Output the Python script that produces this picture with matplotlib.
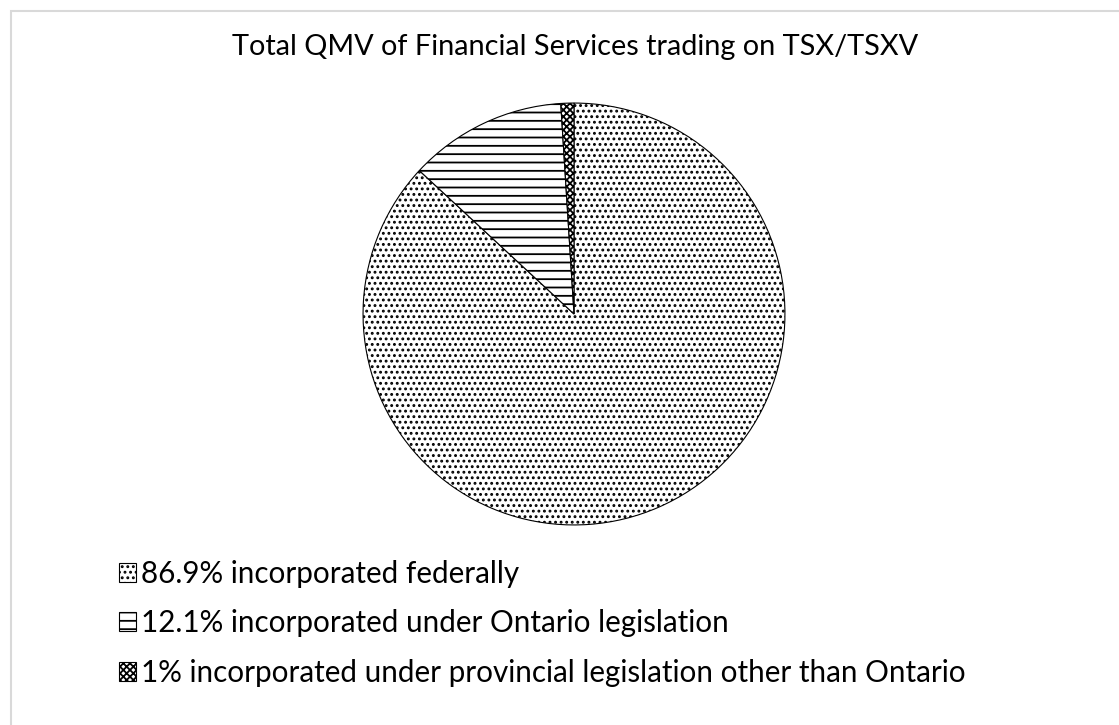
import matplotlib.pyplot as plt
from matplotlib.patches import Patch, Rectangle

plt.rcParams['font.family'] = ['Lato', 'DejaVu Sans']
plt.rcParams['hatch.linewidth'] = 1.3

# Chart data
chartTitle = "Total QMV of Financial Services trading on TSX/TSXV"
shares = [86.9, 12.1, 1.0]
labels = ["86.9% incorporated federally",
          "12.1% incorporated under Ontario legislation",
          "1% incorporated under provincial legislation other than Ontario"]
hatches = ["...", "--", "xxxxx"]

fig = plt.figure(figsize=(11.19, 7.25), dpi=100)

# Light gray chart border (right/bottom edges run off the image)
fig.patches.append(Rectangle((11 / 1119, -0.05), 1.2, 1 - 11 / 725 + 0.05,
                             transform=fig.transFigure, fill=False,
                             edgecolor="#d9d9d9", linewidth=1.5))

ax = fig.add_axes([(574 - 212) / 1119, 1 - (314 + 212) / 725, 424 / 1119, 424 / 725])
wedges, _ = ax.pie(shares, startangle=90, counterclock=False,
                   colors=["white"] * 3,
                   wedgeprops=dict(edgecolor="black", linewidth=0.8))
for w, h in zip(wedges, hatches):
    w.set_hatch(h)
ax.set_xlim(-1.005, 1.005)
ax.set_ylim(-1.005, 1.005)
ax.set_aspect("equal")

fig.text(575 / 1119, 1 - 47 / 725, chartTitle, ha="center", va="center", fontsize=20.8)

handles = [Patch(facecolor="white", edgecolor="black", hatch=h, linewidth=0.8) for h in hatches]
fig.legend(handles, labels, loc="upper left", bbox_to_anchor=(92 / 1119, 1 - 533 / 725),
           frameon=False, fontsize=21.3, handlelength=0.6, handleheight=0.6,
           handletextpad=0.15, labelspacing=0.73)

plt.savefig("out.png", dpi=100)
